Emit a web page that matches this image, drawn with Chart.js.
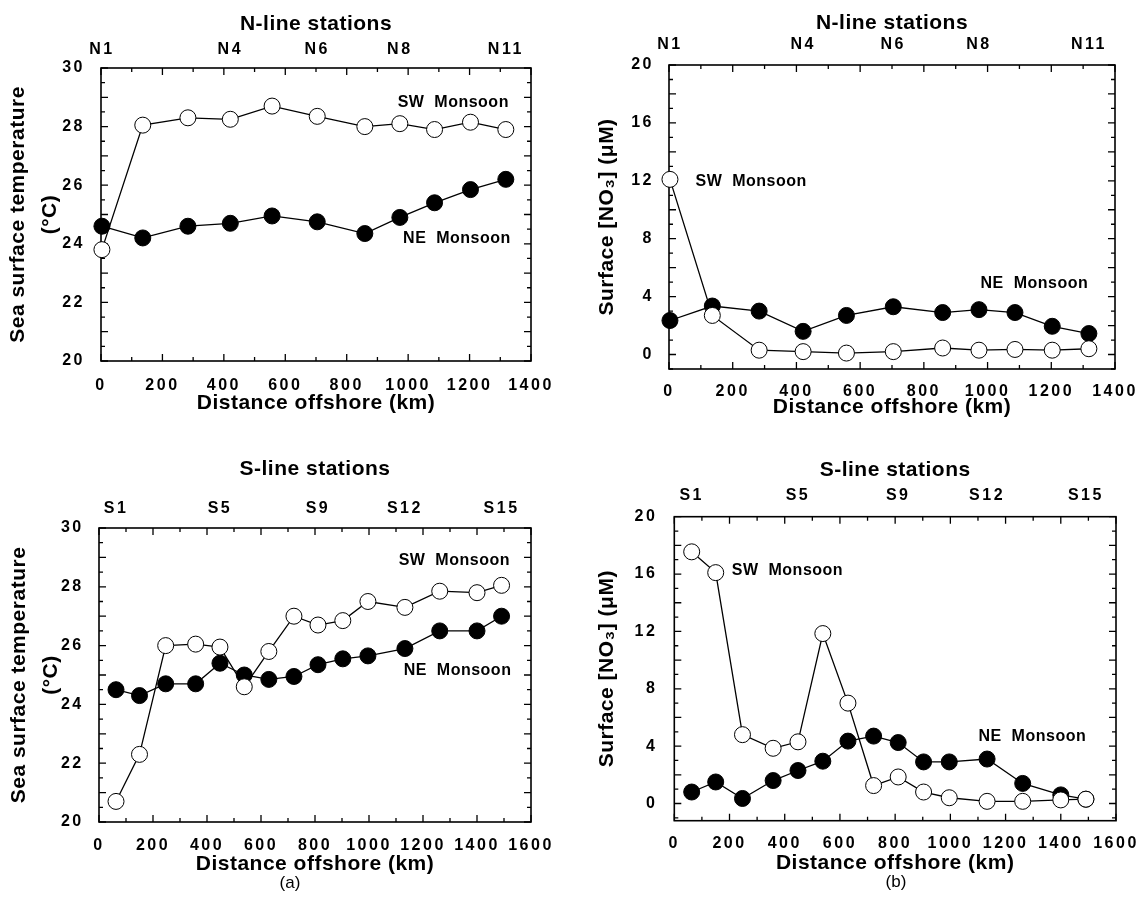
<!DOCTYPE html>
<html><head><meta charset="utf-8">
<script src="https://cdn.jsdelivr.net/npm/chart.js@4.4.1/dist/chart.umd.min.js"></script>
<style>
html,body{margin:0;padding:0;background:#fff;}
body{width:1144px;height:900px;position:relative;overflow:hidden;}
canvas{position:absolute;}
.lab{position:absolute;font:17px 'Liberation Sans',Arial,sans-serif;color:#000;transform:translate(-50%,-50%);white-space:nowrap;}
</style></head><body>
<canvas id="c1" width="572" height="420" style="left:0;top:0;width:572px;height:420px"></canvas>
<canvas id="c2" width="572" height="420" style="left:572px;top:0;width:572px;height:420px"></canvas>
<canvas id="c3" width="572" height="480" style="left:0;top:420px;width:572px;height:480px"></canvas>
<canvas id="c4" width="572" height="480" style="left:572px;top:420px;width:572px;height:480px"></canvas>
<div class="lab" style="left:290px;top:883px">(a)</div>
<div class="lab" style="left:896px;top:882px">(b)</div>
<script>
// ---- data ----
const nDistance = [3, 136, 283, 421, 557, 704, 859, 973, 1086, 1203, 1318];
const nStations = ['N1','N2','N3','N4','N5','N6','N7','N8','N9','N10','N11'];
const nLabeledStations = ['N1','N4','N6','N8','N11'];
const sDistance = [63, 150, 247, 358, 448, 538, 629, 722, 811, 903, 996, 1133, 1262, 1400, 1491];
const sStations = ['S1','S2','S3','S4','S5','S6','S7','S8','S9','S10','S11','S12','S13','S14','S15'];
const sLabeledStations = ['S1','S5','S9','S12','S15'];

const nTempSW = [23.8, 28.05, 28.3, 28.25, 28.7, 28.35, 28.0, 28.1, 27.9, 28.15, 27.9];
const nTempNE = [24.6, 24.2, 24.6, 24.7, 24.95, 24.75, 24.35, 24.9, 25.4, 25.85, 26.2];
const nNitrateSW = [12.1, 2.7, 0.3, 0.2, 0.1, 0.2, 0.45, 0.3, 0.35, 0.3, 0.4];
const nNitrateNE = [2.35, 3.35, 3.0, 1.6, 2.7, 3.3, 2.9, 3.1, 2.9, 1.95, 1.45];
const sTempSW = [20.7, 22.3, 26.0, 26.05, 25.95, 24.6, 25.8, 27.0, 26.7, 26.85, 27.5, 27.3, 27.85, 27.8, 28.05];
const sTempNE = [24.5, 24.3, 24.7, 24.7, 25.4, 25.0, 24.85, 24.95, 25.35, 25.55, 25.65, 25.9, 26.5, 26.5, 27.0];
const sNitrateSW = [17.55, 16.1, 4.8, 3.85, 4.3, 11.85, 7.0, 1.25, 1.85, 0.8, 0.4, 0.15, 0.15, 0.25, 0.3];
const sNitrateNE = [0.8, 1.5, 0.35, 1.6, 2.3, 2.95, 4.35, 4.7, 4.25, 2.9, 2.9, 3.1, 1.4, 0.6, 0.3];

const tempTicks = [20, 22, 24, 26, 28, 30];
const nitrateTicks = [0, 4, 8, 12, 16, 20];
const nDistanceTicks = [0, 200, 400, 600, 800, 1000, 1200, 1400];
const sDistanceTicks = [0, 200, 400, 600, 800, 1000, 1200, 1400, 1600];

const seriesNames = ['SW  Monsoon', 'NE  Monsoon'];
const tempTitle = ['Sea surface temperature', '(°C)'];
const nitrateTitle = 'Surface [NO\u2083] (\u03bcM)';
const xTitle = 'Distance offshore (km)';

// ---- drawing ----
const FONT = "'Liberation Sans', Arial, Helvetica, sans-serif";

function panel(id, o) {
  const stationTickDist = o.labeled.map(n => o.dist[o.names.indexOf(n)]);
  const pts = (vals) => vals.map((v, i) => ({x: o.dist[i], y: v}));
  const plug = {
    id: 'frame' + id,
    beforeDraw(chart) { chart.ctx.letterSpacing = '0.5px'; },
    beforeDatasetsDraw(chart) {
      const {ctx, chartArea: a} = chart;
      const x = chart.scales.x, y = chart.scales.y;
      ctx.save();
      ctx.strokeStyle = '#000';
      ctx.lineWidth = 1.6;
      ctx.strokeRect(a.left, a.top, a.right - a.left, a.bottom - a.top);
      ctx.lineWidth = 1.3;
      ctx.beginPath();
      const isMaj = (v, m) => Math.abs(v / m - Math.round(v / m)) < 1e-6;
      for (let v = 0; v <= x.max + 1e-6; v += o.xMinor) {
        const px = x.getPixelForValue(v);
        const L = isMaj(v, o.xMajor) ? 7 : 4;
        ctx.moveTo(px, a.top); ctx.lineTo(px, a.top + L);
        ctx.moveTo(px, a.bottom); ctx.lineTo(px, a.bottom - L);
      }
      for (let v = Math.ceil(y.min / o.yMinor) * o.yMinor; v <= y.max + 1e-6; v += o.yMinor) {
        const py = y.getPixelForValue(v);
        const L = isMaj(v, o.yMajor) ? 7 : 4;
        ctx.moveTo(a.left, py); ctx.lineTo(a.left + L, py);
        ctx.moveTo(a.right, py); ctx.lineTo(a.right - L, py);
      }
      ctx.stroke();
      ctx.restore();
    },
    afterDatasetsDraw(chart) {
      const ctx = chart.ctx;
      const x = chart.scales.x, y = chart.scales.y;
      ctx.save();
      ctx.letterSpacing = '0.5px';
      ctx.fillStyle = '#000';
      ctx.font = 'bold 16px ' + FONT;
      ctx.textAlign = 'center';
      ctx.textBaseline = 'middle';
      o.notes.forEach(n => ctx.fillText(n.text, x.getPixelForValue(n.x), y.getPixelForValue(n.y)));
      ctx.restore();
      // tick labels (drawn after this, z = 1) use a wider spacing
      ctx.letterSpacing = '2.5px';
    }
  };
  const boldFont = (size) => ({family: FONT, size: size, weight: 'bold', lineHeight: 1.2});
  new Chart(document.getElementById(id), {
    type: 'line',
    data: {
      datasets: [
        {label: seriesNames[0], data: pts(o.sw), borderColor: '#000', borderWidth: 1.3,
         pointRadius: 8, pointBackgroundColor: '#fff', pointBorderColor: '#000', pointBorderWidth: 1,
         tension: 0, clip: false},
        {label: seriesNames[1], data: pts(o.ne), borderColor: '#000', borderWidth: 1.3,
         pointRadius: 8, pointBackgroundColor: '#000', pointBorderColor: '#000', pointBorderWidth: 1,
         tension: 0, clip: false}
      ]
    },
    options: {
      responsive: false, animation: false, devicePixelRatio: 1,
      layout: {padding: {left: 0, right: o.padR, top: 0, bottom: 0}},
      plugins: {
        legend: {display: false}, tooltip: {enabled: false},
        title: {display: true, text: o.title, fullSize: false, color: '#000',
                font: boldFont(21), padding: {top: o.titleTop, bottom: 0}}
      },
      scales: {
        x: {
          type: 'linear', position: 'bottom', min: 0, max: o.xTicks[o.xTicks.length - 1],
          grid: {display: false}, border: {display: false},
          afterBuildTicks: s => { s.ticks = o.xTicks.map(v => ({value: v})); },
          ticks: {z: 1, autoSkip: false, maxRotation: 0, color: '#000', font: boldFont(16),
                  padding: o.xTickPad, callback: v => String(v)},
          title: {display: true, text: xTitle, color: '#000', font: boldFont(21),
                  padding: {top: 0, bottom: o.xTitleBottom}},
          afterFit: s => { s.height = o.xH; }
        },
        x2: {
          type: 'linear', position: 'top', min: 0, max: o.xTicks[o.xTicks.length - 1],
          grid: {display: false}, border: {display: false},
          afterBuildTicks: s => { s.ticks = stationTickDist.map(v => ({value: v})); },
          ticks: {z: 1, autoSkip: false, maxRotation: 0, color: '#000', font: boldFont(16),
                  padding: o.stPad, callback: (v, i) => o.labeled[i]},
          afterFit: s => { s.height = o.x2H; }
        },
        y: {
          type: 'linear', position: 'left', min: o.yMin, max: o.yMax,
          grid: {display: false}, border: {display: false},
          afterBuildTicks: s => { s.ticks = o.yTicks.map(v => ({value: v})); },
          ticks: {z: 1, color: '#000', font: boldFont(16), padding: o.yTickPad, callback: v => String(v)},
          title: {display: true, text: o.yTitle, color: '#000',
                  font: {family: FONT, size: 21, weight: 'bold', lineHeight: 32 / 21},
                  padding: {top: o.yTitleTop, bottom: 0}},
          afterFit: s => { s.width = o.yW; }
        }
      }
    },
    plugins: [plug]
  });
}

panel('c1', {
  title: 'N-line stations', dist: nDistance, names: nStations, labeled: nLabeledStations,
  sw: nTempSW, ne: nTempNE, xTicks: nDistanceTicks, yTicks: tempTicks, yMin: 20, yMax: 30,
  yTitle: tempTitle, xMinor: 100, xMajor: 200, yMinor: 0.5, yMajor: 1,
  padR: 41, titleTop: 11.4, x2H: 31.4, stPad: 1, xH: 59, xTickPad: 7, xTitleBottom: 4.4,
  yW: 101, yTickPad: 8, yTitleTop: 2,
  notes: [{text: seriesNames[0], x: 1147, y: 28.82}, {text: seriesNames[1], x: 1159, y: 24.17}]
});
panel('c2', {
  title: 'N-line stations', dist: nDistance, names: nStations, labeled: nLabeledStations,
  sw: nNitrateSW, ne: nNitrateNE, xTicks: nDistanceTicks, yTicks: nitrateTicks, yMin: -1, yMax: 20,
  yTitle: nitrateTitle, xMinor: 100, xMajor: 200, yMinor: 1, yMajor: 2,
  padR: 29, titleTop: 11, x2H: 28.8, stPad: 2.4, xH: 51, xTickPad: 5, xTitleBottom: 0,
  yW: 97, yTickPad: 7, yTitleTop: 19,
  notes: [{text: seriesNames[0], x: 258, y: 11.95}, {text: seriesNames[1], x: 1147, y: 4.9}]
});
panel('c3', {
  title: 'S-line stations', dist: sDistance, names: sStations, labeled: sLabeledStations,
  sw: sTempSW, ne: sTempNE, xTicks: sDistanceTicks, yTicks: tempTicks, yMin: 20, yMax: 30,
  yTitle: tempTitle, xMinor: 100, xMajor: 200, yMinor: 0.5, yMajor: 1,
  padR: 41, titleTop: 36.4, x2H: 46.4, stPad: 1.4, xH: 78, xTickPad: 5.9, xTitleBottom: 23.4,
  yW: 99, yTickPad: 7.3, yTitleTop: 2.9,
  notes: [{text: seriesNames[0], x: 1316, y: 28.89}, {text: seriesNames[1], x: 1328, y: 25.14}]
});
panel('c4', {
  title: 'S-line stations', dist: sDistance, names: sStations, labeled: sLabeledStations,
  sw: sNitrateSW, ne: sNitrateNE, xTicks: sDistanceTicks, yTicks: nitrateTicks, yMin: -1.2, yMax: 20,
  yTitle: nitrateTitle, xMinor: 100, xMajor: 200, yMinor: 1, yMajor: 2,
  padR: 28, titleTop: 37.4, x2H: 34.1, stPad: 3.1, xH: 79.3, xTickPad: 5.7, xTitleBottom: 24.4,
  yW: 102.3, yTickPad: 9, yTitleTop: 19.5,
  notes: [{text: seriesNames[0], x: 410, y: 16.25}, {text: seriesNames[1], x: 1297, y: 4.69}]
});
</script>
</body></html>
